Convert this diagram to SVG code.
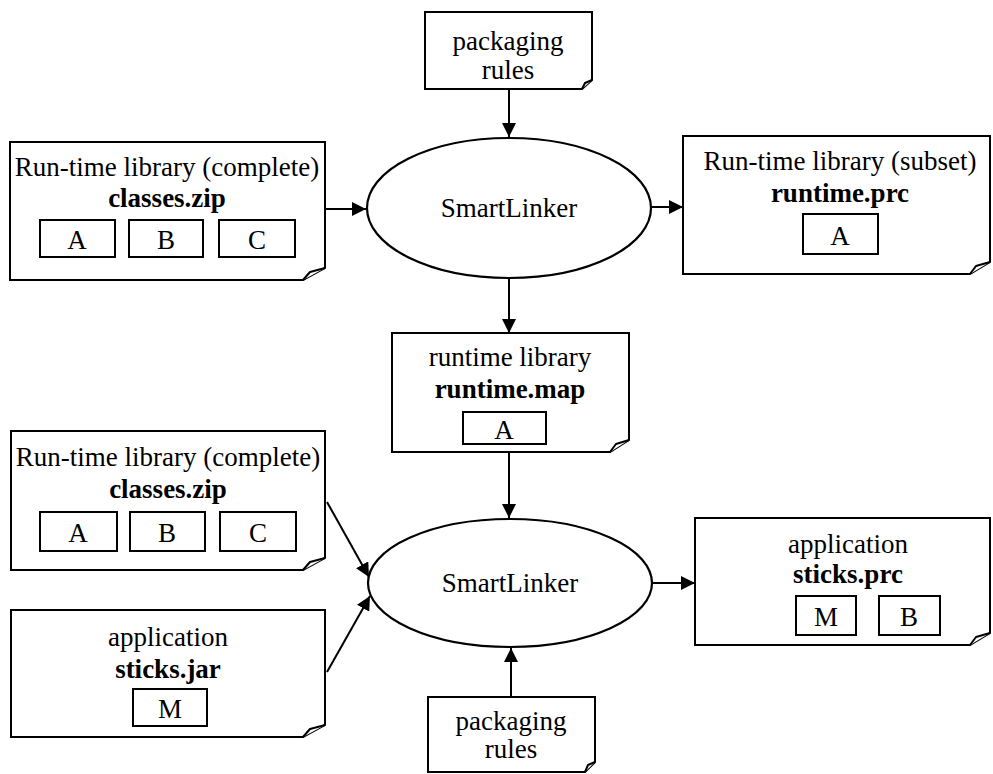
<svg xmlns="http://www.w3.org/2000/svg" width="993" height="774" viewBox="0 0 993 774">
<style>
text{font-family:"Liberation Serif","Times New Roman",serif;font-size:27px;fill:#000;text-anchor:middle}
.b{font-weight:bold}
.doc{fill:#fff;stroke:#000;stroke-width:2}
.fold{fill:#fff;stroke:#000;stroke-width:2;stroke-linejoin:round}
.sb{fill:#fff;stroke:#000;stroke-width:2}
.ell{fill:#fff;stroke:#000;stroke-width:2.2}
.con{stroke:#000;stroke-width:2;fill:none}
</style>
<defs>
<marker id="ah" viewBox="0 0 10 10" refX="10" refY="5" markerWidth="14" markerHeight="14" markerUnits="userSpaceOnUse" orient="auto">
<path d="M0,0 L10,5 L0,10 Z" fill="#000"/>
</marker>
</defs>
<rect width="993" height="774" fill="#fff"/>

<g id="connectors">
<line class="con" x1="509" y1="89" x2="509" y2="137" marker-end="url(#ah)"/>
<line class="con" x1="325" y1="209" x2="366" y2="209" marker-end="url(#ah)"/>
<line class="con" x1="651" y1="207" x2="683" y2="207" marker-end="url(#ah)"/>
<line class="con" x1="509" y1="278" x2="509" y2="333" marker-end="url(#ah)"/>
<line class="con" x1="509" y1="452" x2="509" y2="518" marker-end="url(#ah)"/>
<line class="con" x1="327" y1="502" x2="369" y2="577" marker-end="url(#ah)"/>
<line class="con" x1="327" y1="672" x2="370" y2="596" marker-end="url(#ah)"/>
<line class="con" x1="653" y1="583" x2="695" y2="583" marker-end="url(#ah)"/>
<line class="con" x1="511" y1="697" x2="511" y2="648" marker-end="url(#ah)"/>
</g>

<g id="packaging-top">
<path class="doc" d="M425,12 H592 V80 L582,89 H425 Z"/>
<path class="fold" d="M582,89 L585,83 L592,80"/>
<text x="508" y="50">packaging</text>
<text x="508" y="79">rules</text>
</g>

<g id="smartlinker-top">
<ellipse class="ell" cx="509" cy="208" rx="142" ry="70"/>
<text x="509" y="217">SmartLinker</text>
</g>

<g id="classes-top">
<path class="doc" d="M10,142 H325 V268 L303,280 H10 Z"/>
<path class="fold" d="M303,280 L310,272 L325,268"/>
<text x="167" y="176">Run-time library (complete)</text>
<text x="167" y="207" class="b">classes.zip</text>
<rect class="sb" x="40" y="220" width="75" height="37"/>
<text x="77" y="249">A</text>
<rect class="sb" x="129" y="220" width="74" height="37"/>
<text x="166" y="249">B</text>
<rect class="sb" x="219" y="220" width="76" height="37"/>
<text x="257" y="249">C</text>
</g>

<g id="runtime-prc">
<path class="doc" d="M683,136 H990 V262 L970,274 H683 Z"/>
<path class="fold" d="M970,274 L976,266 L990,262"/>
<text x="840" y="170">Run-time library (subset)</text>
<text x="840" y="202" class="b">runtime.prc</text>
<rect class="sb" x="803" y="214" width="75" height="40"/>
<text x="840" y="245">A</text>
</g>

<g id="runtime-map">
<path class="doc" d="M392,333 H629 V440 L610,452 H392 Z"/>
<path class="fold" d="M610,452 L616,444 L629,440"/>
<text x="510" y="366">runtime library</text>
<text x="510" y="398" class="b">runtime.map</text>
<rect class="sb" x="463" y="412" width="83" height="32"/>
<text x="504" y="439">A</text>
</g>

<g id="classes-bottom">
<path class="doc" d="M11,431 H325 V558 L303,570 H11 Z"/>
<path class="fold" d="M303,570 L310,562 L325,558"/>
<text x="168" y="466">Run-time library (complete)</text>
<text x="168" y="498" class="b">classes.zip</text>
<rect class="sb" x="40" y="512" width="77" height="39"/>
<text x="78" y="542">A</text>
<rect class="sb" x="130" y="512" width="75" height="39"/>
<text x="167" y="542">B</text>
<rect class="sb" x="220" y="512" width="76" height="39"/>
<text x="258" y="542">C</text>
</g>

<g id="sticks-jar">
<path class="doc" d="M11,610 H325 V725 L303,737 H11 Z"/>
<path class="fold" d="M303,737 L310,729 L325,725"/>
<text x="168" y="646">application</text>
<text x="168" y="678" class="b">sticks.jar</text>
<rect class="sb" x="133" y="689" width="74" height="37"/>
<text x="170" y="718">M</text>
</g>

<g id="smartlinker-bottom">
<ellipse class="ell" cx="510" cy="583" rx="142" ry="64"/>
<text x="510" y="592">SmartLinker</text>
</g>

<g id="sticks-prc">
<path class="doc" d="M695,518 H990 V633 L970,645 H695 Z"/>
<path class="fold" d="M970,645 L976,637 L990,633"/>
<text x="848" y="553">application</text>
<text x="848" y="583" class="b">sticks.prc</text>
<rect class="sb" x="796" y="596" width="60" height="39"/>
<text x="826" y="626">M</text>
<rect class="sb" x="879" y="596" width="61" height="39"/>
<text x="909" y="626">B</text>
</g>

<g id="packaging-bottom">
<path class="doc" d="M428,697 H595 V762 L585,772 H428 Z"/>
<path class="fold" d="M585,772 L588,765 L595,762"/>
<text x="511" y="730">packaging</text>
<text x="511" y="758">rules</text>
</g>
</svg>
